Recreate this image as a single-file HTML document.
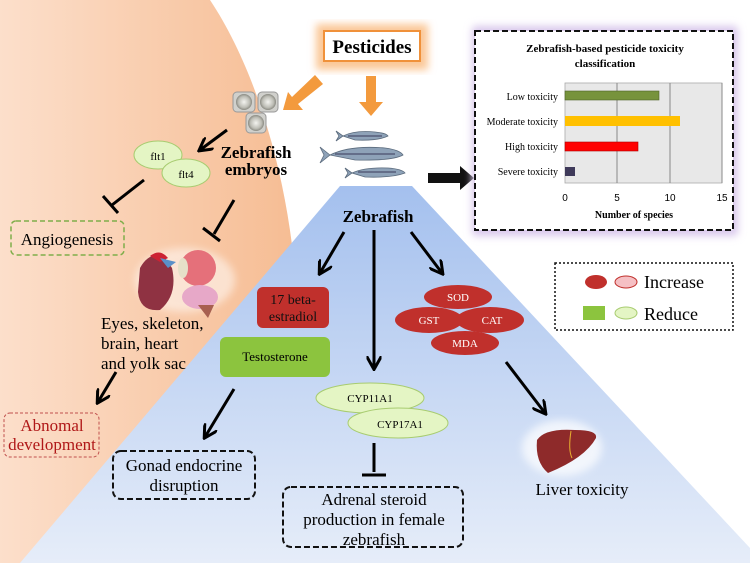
<!DOCTYPE html>
<html><head><meta charset="utf-8"><style>
html,body{margin:0;padding:0;background:#fff;}
svg{display:block;font-family:"Liberation Serif",serif;}
</style></head><body>
<svg width="750" height="563" viewBox="0 0 750 563" xmlns="http://www.w3.org/2000/svg">
<defs>
<linearGradient id="og" x1="0" y1="0" x2="1" y2="0">
<stop offset="0" stop-color="#fcdfcb"/><stop offset="1" stop-color="#f6bd94"/></linearGradient>
<linearGradient id="bg" x1="0" y1="0" x2="0" y2="1">
<stop offset="0" stop-color="#a4c0ee"/><stop offset="1" stop-color="#e6edf9"/></linearGradient>
<marker id="ah" viewBox="0 0 10 10" refX="8" refY="5" markerWidth="5" markerHeight="5" orient="auto"><path d="M0,0 L9,5 L0,10" fill="none" stroke="#000" stroke-width="2"/></marker>
<filter id="gl"><feGaussianBlur stdDeviation="4"/></filter>
<radialGradient id="eg"><stop offset="0" stop-color="#f4f4f0"/><stop offset="0.7" stop-color="#bdbdb5"/><stop offset="1" stop-color="#8a8a82"/></radialGradient>
</defs>
<path d="M0,0 L210,0 C250,60 280,150 292,245 L40,563 L0,563 Z" fill="url(#og)"/>
<path d="M340,186 L412,186 L750,548 L750,563 L20,563 Z" fill="url(#bg)"/>
<!-- Pesticides -->
<rect x="316" y="24" width="112" height="46" fill="#fbc898" filter="url(#gl)"/>
<rect x="324" y="31" width="96" height="30" fill="#fff" stroke="#f0913a" stroke-width="2"/>
<text x="372" y="53" font-size="19" font-weight="bold" text-anchor="middle">Pesticides</text>
<!-- orange arrows -->
<path d="M315,75 L323,84 L298,104 L303,110 L283,110 L288,92 L292,97 Z" fill="#f39a3d"/>
<path d="M366,76 L376,76 L376,102 L383,102 L371,116 L359,102 L366,102 Z" fill="#f39a3d"/>
<!-- embryos -->
<g stroke="#999" stroke-width="1">
<rect x="233" y="92" width="22" height="20" rx="4" fill="#d0d0cc"/>
<rect x="258" y="92" width="20" height="20" rx="4" fill="#d0d0cc"/>
<rect x="246" y="113" width="20" height="20" rx="4" fill="#d0d0cc"/>
</g>
<circle cx="244" cy="102" r="8" fill="url(#eg)"/><circle cx="268" cy="102" r="8" fill="url(#eg)"/><circle cx="256" cy="123" r="8" fill="url(#eg)"/>
<!-- fish -->
<g fill="#8ea2b8" stroke="#5b6b7d" stroke-width="0.8">
<path d="M343,136 Q355,130 375,132 Q386,133 388,136 Q378,141 355,140 Z M343,136 L336,131 L339,136 L336,141 Z"/>
<path d="M330,155 Q350,145 385,148 Q400,150 403,155 Q392,161 355,160 Z M330,155 L320,147 L324,155 L320,163 Z"/>
<path d="M352,173 Q365,167 388,168 Q402,169 405,173 Q392,178 365,177 Z M352,173 L345,168 L348,173 L345,178 Z"/>
</g>
<g stroke="#3a3a5a" stroke-width="1"><line x1="335" y1="154" x2="395" y2="154"/><line x1="348" y1="136" x2="382" y2="136"/><line x1="358" y1="172" x2="396" y2="172"/></g>
<path d="M428,173 L460,173 L460,166 L474,178 L460,190 L460,183 L428,183 Z" fill="#111"/>
<!-- chart -->
<rect x="472" y="26" width="266" height="210" rx="4" fill="#d9c8ec" filter="url(#gl)"/>
<rect x="475" y="31" width="258" height="199" fill="#fff" stroke="#111" stroke-width="2" stroke-dasharray="6,3"/>
<text x="605" y="52" font-size="11" font-weight="bold" text-anchor="middle">Zebrafish-based pesticide toxicity</text>
<text x="605" y="67" font-size="11" font-weight="bold" text-anchor="middle">classification</text>
<rect x="565" y="83" width="157" height="100" fill="#e8e8e8" stroke="#aaa" stroke-width="0.8"/>
<line x1="617" y1="83" x2="617" y2="183" stroke="#888"/><line x1="670" y1="83" x2="670" y2="183" stroke="#888"/><line x1="722" y1="83" x2="722" y2="183" stroke="#888"/>
<rect x="565" y="91" width="94" height="9" fill="#77933c" stroke="#4f6228" stroke-width="0.6"/>
<rect x="565" y="116" width="115" height="10" fill="#ffc000"/>
<rect x="565" y="142" width="73" height="9" fill="#ff0000" stroke="#a00" stroke-width="0.6"/>
<rect x="565" y="167" width="10" height="9" fill="#3f3a5a"/>
<g font-size="10" text-anchor="end">
<text x="558" y="100">Low toxicity</text><text x="558" y="125">Moderate toxicity</text><text x="558" y="150">High toxicity</text><text x="558" y="175">Severe toxicity</text></g>
<g font-size="10" text-anchor="middle" font-family="Liberation Sans,sans-serif">
<text x="565" y="201">0</text><text x="617" y="201">5</text><text x="670" y="201">10</text><text x="722" y="201">15</text></g>
<text x="634" y="218" font-size="10" font-weight="bold" text-anchor="middle">Number of species</text>
<!-- flt ellipses -->
<ellipse cx="158" cy="155" rx="24" ry="14" fill="#e4f5c4" stroke="#a8cc70"/>
<text x="158" y="160" font-size="11" text-anchor="middle">flt1</text>
<ellipse cx="186" cy="173" rx="24" ry="14" fill="#e4f5c4" stroke="#a8cc70"/>
<text x="186" y="178" font-size="11" text-anchor="middle">flt4</text>
<text x="256" y="158" font-size="17" font-weight="bold" text-anchor="middle">Zebrafish</text>
<text x="256" y="175" font-size="17" font-weight="bold" text-anchor="middle">embryos</text>
<g stroke="#000" stroke-width="3" fill="none">
<line x1="227" y1="130" x2="200" y2="150" marker-end="url(#ah)"/>
<line x1="144" y1="180" x2="112" y2="205"/><line x1="103" y1="196" x2="118" y2="213"/>
<line x1="234" y1="200" x2="214" y2="234"/><line x1="203" y1="228" x2="220" y2="241"/>
<line x1="116" y1="372" x2="98" y2="402" marker-end="url(#ah)"/>
</g>
<rect x="11" y="221" width="113" height="34" rx="5" fill="none" stroke="#7fae4a" stroke-width="1.5" stroke-dasharray="5,3"/>
<text x="67" y="245" font-size="17" text-anchor="middle">Angiogenesis</text>
<!-- organs -->
<ellipse cx="185" cy="280" rx="50" ry="32" fill="#fff" opacity="0.5" filter="url(#gl)"/>
<path d="M140,268 Q150,250 165,258 L172,268 Q178,295 160,310 Q140,312 138,292 Z" fill="#8f3242"/>
<path d="M150,256 Q160,248 168,258 L160,262 Z" fill="#cc2233"/>
<path d="M160,258 L176,262 L168,268 Z" fill="#5a90c8"/>
<circle cx="198" cy="268" r="18" fill="#e5707a"/>
<ellipse cx="183" cy="268" rx="5" ry="10" fill="#e6e0c8"/>
<ellipse cx="200" cy="297" rx="18" ry="12" fill="#e7a8c8"/>
<path d="M198,305 L208,318 L214,305 Z" fill="#a86050"/>
<g font-size="17" text-anchor="start">
<text x="101" y="329">Eyes, skeleton,</text><text x="101" y="349">brain, heart</text><text x="101" y="369">and yolk sac</text></g>
<rect x="4" y="413" width="95" height="44" rx="6" fill="none" stroke="#c0504d" stroke-width="1" stroke-dasharray="3,2"/>
<text x="52" y="431" font-size="17" fill="#b01818" text-anchor="middle">Abnomal</text>
<text x="52" y="450" font-size="17" fill="#b01818" text-anchor="middle">development</text>
<text x="378" y="222" font-size="17" font-weight="bold" text-anchor="middle">Zebrafish</text>
<g stroke="#000" stroke-width="3" fill="none">
<line x1="344" y1="232" x2="320" y2="273" marker-end="url(#ah)"/>
<line x1="374" y1="230" x2="374" y2="368" marker-end="url(#ah)"/>
<line x1="411" y1="232" x2="442" y2="273" marker-end="url(#ah)"/>
<line x1="234" y1="389" x2="205" y2="437" marker-end="url(#ah)"/>
<line x1="374" y1="443" x2="374" y2="472"/><line x1="362" y1="475" x2="386" y2="475"/>
<line x1="506" y1="362" x2="545" y2="413" marker-end="url(#ah)"/>
</g>
<rect x="257" y="287" width="72" height="41" rx="6" fill="#c0302c"/>
<text x="293" y="304" font-size="14" text-anchor="middle" fill="#111">17 beta-</text>
<text x="293" y="321" font-size="14" text-anchor="middle" fill="#111">estradiol</text>
<rect x="220" y="337" width="110" height="40" rx="6" fill="#8cc43e"/>
<text x="275" y="361" font-size="13" text-anchor="middle">Testosterone</text>
<ellipse cx="370" cy="398" rx="54" ry="15" fill="#e4f5c4" stroke="#a8cc70"/>
<text x="370" y="402" font-size="11" text-anchor="middle">CYP11A1</text>
<ellipse cx="398" cy="423" rx="50" ry="15" fill="#e4f5c4" stroke="#a8cc70"/>
<text x="400" y="428" font-size="11" text-anchor="middle">CYP17A1</text>
<ellipse cx="458" cy="297" rx="34" ry="12" fill="#c0302c"/><text x="458" y="301" font-size="11" fill="#fff" text-anchor="middle">SOD</text>
<ellipse cx="429" cy="320" rx="34" ry="13" fill="#c0302c"/><text x="429" y="324" font-size="11" fill="#fff" text-anchor="middle">GST</text>
<ellipse cx="490" cy="320" rx="34" ry="13" fill="#c0302c"/><text x="492" y="324" font-size="11" fill="#fff" text-anchor="middle">CAT</text>
<ellipse cx="465" cy="343" rx="34" ry="12" fill="#c0302c"/><text x="465" y="347" font-size="11" fill="#fff" text-anchor="middle">MDA</text>
<rect x="113" y="451" width="142" height="48" rx="8" fill="none" stroke="#111" stroke-width="2" stroke-dasharray="6,3"/>
<text x="184" y="471" font-size="17" text-anchor="middle">Gonad endocrine</text>
<text x="184" y="491" font-size="17" text-anchor="middle">disruption</text>
<rect x="283" y="487" width="180" height="60" rx="8" fill="none" stroke="#111" stroke-width="2" stroke-dasharray="6,3"/>
<text x="374" y="505" font-size="17" text-anchor="middle">Adrenal steroid</text>
<text x="374" y="525" font-size="17" text-anchor="middle">production in female</text>
<text x="374" y="545" font-size="17" text-anchor="middle">zebrafish</text>
<ellipse cx="562" cy="448" rx="40" ry="28" fill="#fff" opacity="0.7" filter="url(#gl)"/>
<path d="M537,440 Q545,428 575,430 Q598,430 596,438 Q585,458 548,473 Q535,462 537,440 Z" fill="#8e2a2a"/>
<path d="M571,431 Q568,450 572,458" stroke="#e8b030" fill="none"/>
<text x="582" y="495" font-size="17" text-anchor="middle">Liver toxicity</text>
<rect x="555" y="263" width="178" height="67" fill="#fff" stroke="#111" stroke-width="1.5" stroke-dasharray="2,2"/>
<ellipse cx="596" cy="282" rx="11" ry="7" fill="#c0302c"/>
<ellipse cx="626" cy="282" rx="11" ry="6" fill="#f5c0c4" stroke="#c0302c"/>
<text x="644" y="288" font-size="18">Increase</text>
<rect x="583" y="306" width="22" height="14" fill="#8cc43e"/>
<ellipse cx="626" cy="313" rx="11" ry="6" fill="#e4f5c4" stroke="#a8cc70"/>
<text x="644" y="320" font-size="18">Reduce</text>
</svg>
</body></html>
